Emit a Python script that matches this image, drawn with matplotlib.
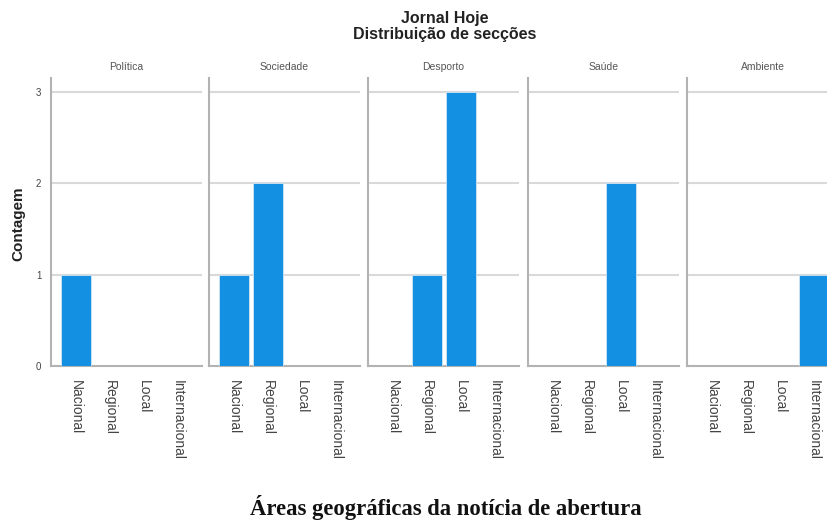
import matplotlib
matplotlib.use("Agg")
import matplotlib.pyplot as plt

# ---------------------------------------------------------------
# DATA
# ---------------------------------------------------------------
areas = ['Nacional', 'Regional', 'Local', 'Internacional']
seccoes = ['Política', 'Sociedade', 'Desporto', 'Saúde', 'Ambiente']
politica = [1, 0, 0, 0]
sociedade = [1, 2, 0, 0]
desporto = [0, 1, 3, 0]
saude = [0, 0, 2, 0]
ambiente = [0, 0, 0, 1]
contagens = [politica, sociedade, desporto, saude, ambiente]
yticks = [0, 1, 2, 3]

# ---------------------------------------------------------------
# FIGURE
# ---------------------------------------------------------------
W, H = 827, 522
fig = plt.figure(figsize=(W / 100, H / 100), dpi=100)
plt.rcParams['font.family'] = ['Liberation Sans', 'DejaVu Sans']

blue = '#1490E3'
spine_col = '#b3b3b3'
grid_col = '#d9d9d9'

lefts = [51, 209, 368, 528, 687]
panel_w = 151
y0_px, top_px = 366, 78

for i, (sec, vals) in enumerate(zip(seccoes, contagens)):
    ax = fig.add_axes([lefts[i] / W, (H - y0_px) / H,
                       panel_w / W, (y0_px - top_px) / H])
    ax.bar(range(len(areas)), vals, width=0.88, color=blue,
           edgecolor='#cfe6f7', linewidth=0.6, zorder=3)
    ax.set_xlim(-0.735, 3.7)
    ax.set_ylim(0, 3.15)
    for v in yticks[1:]:
        ax.axhline(v, color=grid_col, lw=1.5, zorder=1)
    for s in ['top', 'right']:
        ax.spines[s].set_visible(False)
    for s in ['left', 'bottom']:
        ax.spines[s].set_color(spine_col)
        ax.spines[s].set_linewidth(1.5)
    ax.set_xticks(range(len(areas)))
    ax.set_xticklabels(areas, rotation=270, fontsize=10, color='#444444',
                       va='top', ha='center')
    ax.tick_params(axis='x', length=0, pad=10)
    ax.set_yticks(yticks)
    if i == 0:
        ax.set_yticklabels([str(v) for v in yticks], fontsize=7, color='#444444')
        ax.tick_params(axis='y', length=0, pad=7)
    else:
        ax.set_yticklabels([])
        ax.tick_params(axis='y', length=0)
    ax.set_title(sec, fontsize=7.5, color='#555555', pad=6)
    ax.patch.set_alpha(0)

fig.text(445 / W, 1 - 18 / H, 'Jornal Hoje', ha='center', va='center',
         fontsize=11.5, fontweight='bold', color='#222222')
fig.text(445 / W, 1 - 35 / H, 'Distribuição de secções', ha='center', va='center',
         fontsize=11.5, fontweight='bold', color='#222222')
fig.text(18 / W, 1 - 224 / H, 'Contagem', rotation=90, ha='center', va='center',
         fontsize=11, fontweight='bold', color='#222222')
fig.text(446 / W, 1 - 508 / H, 'Áreas geográficas da notícia de abertura',
         ha='center', va='center', fontsize=16.3, fontweight='bold',
         family='Liberation Serif', color='#111111')

plt.savefig('out.png', dpi=100)
plt.close()
